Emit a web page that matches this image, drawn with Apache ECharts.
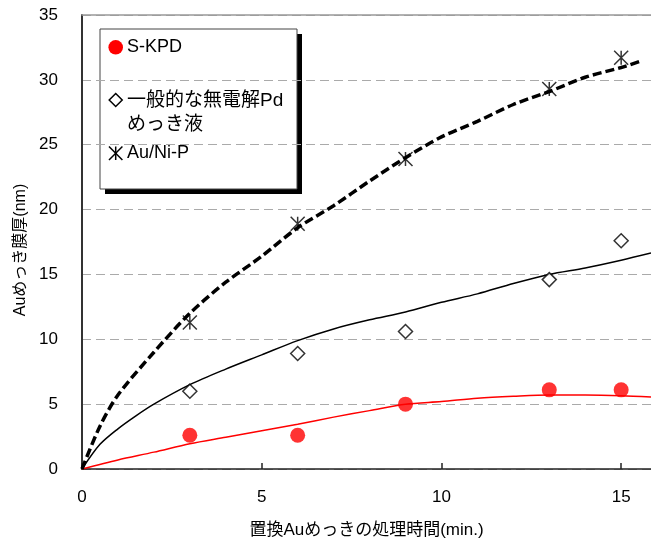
<!DOCTYPE html>
<html>
<head>
<meta charset="utf-8">
<script src="https://cdn.jsdelivr.net/npm/echarts@6/dist/echarts.min.js"></script>
<style>
  html, body { margin: 0; padding: 0; background: #fff; }
  #chart { width: 651px; height: 543px; }
</style>
</head>
<body>
<div id="chart"></div>
<script>
// Treatment time (min.) at which film thickness was measured
const sampleTimes = [3, 6, 9, 13, 15];

// Measured Au film thickness (nm)
const sKpdPoints = [2.6, 2.6, 5.0, 6.1, 6.1];
const generalPdPoints = [6.0, 8.9, 10.6, 14.6, 17.6];
const auNiPPoints = [11.3, 18.9, 23.9, 29.3, 31.7];

// Trend curves (time, thickness)
const sKpdCurveX = [0, 1, 2, 3, 4, 5, 6, 7, 8, 9, 10, 11, 12, 13, 14, 15, 15.83];
const sKpdCurveY = [0, 0.7, 1.3, 1.95, 2.45, 2.95, 3.45, 4.0, 4.5, 5.0, 5.2, 5.45, 5.6, 5.7, 5.7, 5.65, 5.55];

const generalPdCurveX = [0, 0.5, 1, 1.5, 2, 3, 4, 5, 6, 7, 8, 9, 10, 11, 12, 13, 14, 15, 15.83];
const generalPdCurveY = [0, 1.9, 3.1, 4.1, 5.0, 6.5, 7.7, 8.8, 9.9, 10.8, 11.5, 12.1, 12.85, 13.5, 14.3, 15.0, 15.5, 16.1, 16.65];

const auNiPCurveX = [0, 0.5, 1, 2, 3, 4, 5, 6, 7, 8, 9, 10, 11, 12, 13, 14, 15, 15.5];
const auNiPCurveY = [0, 3.3, 5.7, 9.0, 12.0, 14.4, 16.4, 18.6, 20.3, 22.2, 24.0, 25.6, 26.8, 28.1, 29.1, 30.2, 30.95, 31.4];

// Axis settings
const xMax = 15.83;
const yTicks = [0, 5, 10, 15, 20, 25, 30, 35];
const xTickStep = 5;

// Legend entries
const legendLabels = ['S-KPD', '一般的な無電解Pd', 'めっき液', 'Au/Ni-P'];
const xTitle = '置換Auめっきの処理時間(min.)';
const yTitle = 'Auめっき膜厚(nm)';

const FONT = "'Liberation Sans','Noto Sans CJK JP',sans-serif";
const pair = (xs, ys) => xs.map((x, i) => [x, ys[i]]);
const asterisk = 'path://M0,0L14,14M14,0L0,14M7,0L7,14';

const chart = echarts.init(document.getElementById('chart'), null, { renderer: 'canvas' });

chart.setOption({
  animation: false,
  backgroundColor: '#fff',
  grid: { left: 82, right: 0, top: 15, bottom: 74, containLabel: false, outerBoundsMode: 'none' },
  xAxis: [{
    type: 'value',
    min: 0,
    max: xMax,
    interval: xTickStep,
    axisLine: { lineStyle: { color: '#222', width: 1.5 } },
    axisTick: { inside: true, length: 6, lineStyle: { color: '#222', width: 1.5 } },
    axisLabel: {
      margin: 20, color: '#000', fontSize: 17, fontFamily: FONT,
      showMaxLabel: false,
      formatter: v => (v % xTickStep === 0 ? String(v) : '')
    },
    splitLine: { show: false },
    name: xTitle,
    nameLocation: 'middle',
    nameGap: 53,
    nameTextStyle: { color: '#000', fontSize: 17, fontFamily: FONT }
  }, {
    type: 'value',
    position: 'top',
    min: 0,
    max: xMax,
    axisLine: { show: true, lineStyle: { color: '#999', width: 1.5 } },
    axisTick: { show: false },
    axisLabel: { show: false },
    splitLine: { show: false }
  }],
  yAxis: {
    type: 'value',
    min: yTicks[0],
    max: yTicks[yTicks.length - 1],
    interval: yTicks[1] - yTicks[0],
    axisLine: { show: true, lineStyle: { color: '#333', width: 2 } },
    axisTick: { show: false },
    axisLabel: { margin: 24, color: '#000', fontSize: 17, fontFamily: FONT },
    splitLine: { show: true, lineStyle: { color: '#aaa', width: 1, type: [9, 5] } },
    name: yTitle,
    nameLocation: 'middle',
    nameGap: 49,
    nameTextStyle: { color: '#000', fontSize: 16, fontFamily: FONT, padding: [0, 16, 0, 0] }
  },
  series: [
    {
      type: 'line', data: pair(sKpdCurveX, sKpdCurveY), smooth: 0.3,
      showSymbol: false, lineStyle: { color: '#ff0000', width: 1.5 }, z: 2
    },
    {
      type: 'line', data: pair(generalPdCurveX, generalPdCurveY), smooth: 0.3,
      showSymbol: false, lineStyle: { color: '#000', width: 1.5 }, z: 2
    },
    {
      type: 'line', data: pair(auNiPCurveX, auNiPCurveY), smooth: 0.3,
      showSymbol: false, lineStyle: { color: '#000', width: 3.5, type: [9, 4] }, z: 2
    },
    {
      name: legendLabels[0], type: 'scatter', data: pair(sampleTimes, sKpdPoints),
      symbol: 'circle', symbolSize: 15, itemStyle: { color: '#ff0000' }, z: 3
    },
    {
      name: legendLabels[1], type: 'scatter', data: pair(sampleTimes, generalPdPoints),
      symbol: 'diamond', symbolSize: 14,
      itemStyle: { color: '#fff', borderColor: '#000', borderWidth: 1.5 }, z: 3
    },
    {
      name: legendLabels[3], type: 'scatter', data: pair(sampleTimes, auNiPPoints),
      symbol: asterisk, symbolSize: 14,
      itemStyle: { color: 'transparent', borderColor: '#000', borderWidth: 1.5 }, z: 3
    }
  ],
  graphic: [{
    type: 'group',
    z: 10,
    children: [
      // drop shadow of the legend box
      { type: 'rect', shape: { x: 105, y: 34, width: 197, height: 160 }, style: { fill: '#000' } },
      {
        type: 'rect',
        shape: { x: 100, y: 29, width: 197, height: 160 },
        style: { fill: '#fff', stroke: '#444', lineWidth: 1 }
      },
      { type: 'circle', shape: { cx: 115.7, cy: 47.3, r: 7.3 }, style: { fill: '#ff0000' } },
      {
        type: 'polygon',
        shape: { points: [[115.7, 93.5], [122.2, 100], [115.7, 106.5], [109.2, 100]] },
        style: { fill: '#fff', stroke: '#000', lineWidth: 1.5 }
      },
      { type: 'line', shape: { x1: 109, y1: 146.5, x2: 122.4, y2: 160 }, style: { stroke: '#000', lineWidth: 1.5 } },
      { type: 'line', shape: { x1: 122.4, y1: 146.5, x2: 109, y2: 160 }, style: { stroke: '#000', lineWidth: 1.5 } },
      { type: 'line', shape: { x1: 115.7, y1: 146.5, x2: 115.7, y2: 160 }, style: { stroke: '#000', lineWidth: 1.5 } },
      { type: 'text', x: 127, y: 47.5, style: { text: legendLabels[0], fill: '#000', font: '18px ' + FONT, textVerticalAlign: 'middle' } },
      { type: 'text', x: 127, y: 100.5, style: { text: legendLabels[1], fill: '#000', font: '19px ' + FONT, textVerticalAlign: 'middle' } },
      { type: 'text', x: 127, y: 124.5, style: { text: legendLabels[2], fill: '#000', font: '19px ' + FONT, textVerticalAlign: 'middle' } },
      { type: 'text', x: 127, y: 153.5, style: { text: legendLabels[3], fill: '#000', font: '18px ' + FONT, textVerticalAlign: 'middle' } }
    ]
  }]
});
</script>
</body>
</html>
